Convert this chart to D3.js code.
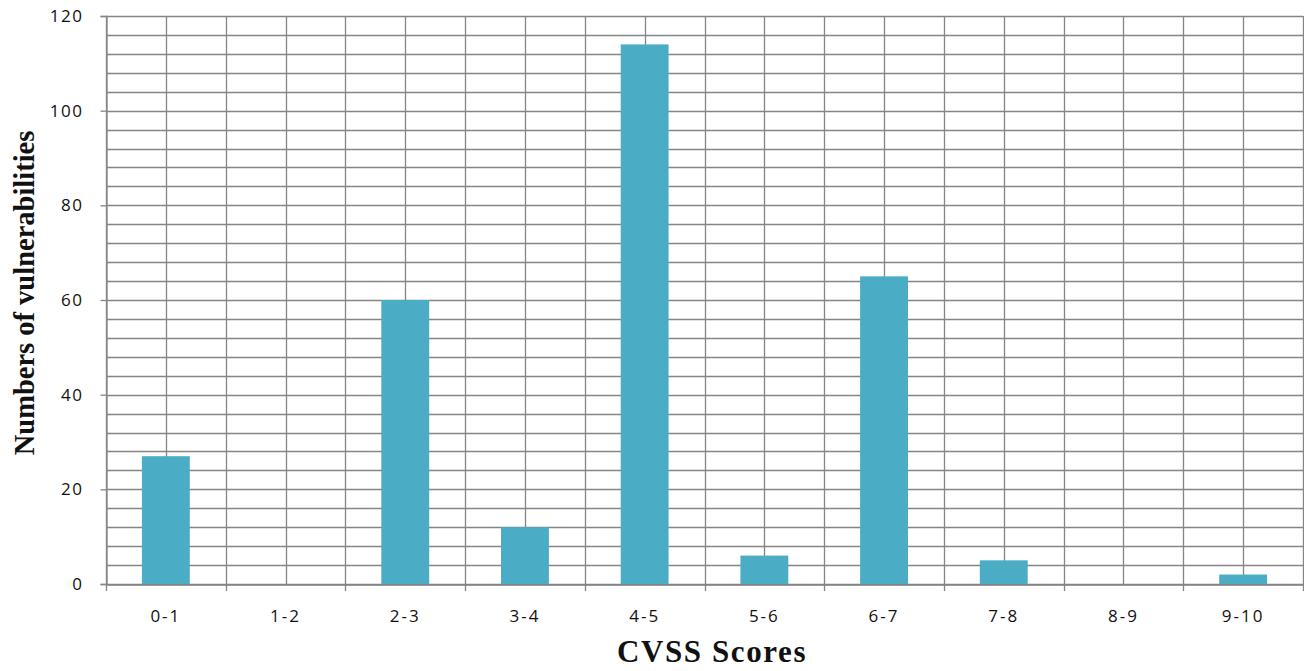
<!DOCTYPE html>
<html><head><meta charset="utf-8">
<script src="https://cdn.jsdelivr.net/npm/d3@7"></script>
<style>body{margin:0;background:#fff}svg{display:block}</style>
</head><body>
<svg id="c" width="1304" height="671"></svg>
<script>
const categories = ["0-1","1-2","2-3","3-4","4-5","5-6","6-7","7-8","8-9","9-10"];
const values = [27, 0, 60, 12, 114, 6, 65, 5, 0, 2];
const yTicks = [0, 20, 40, 60, 80, 100, 120];
const yMinorTicks = d3.range(0, 121, 4);
const xTitle = "CVSS Scores";
const yTitle = "Numbers of vulnerabilities";

const svg = d3.select("#c");
const L = 106, R = 1303, T = 16, B = 584;
const x = d3.scaleBand().domain(categories).range([L, R]).paddingInner(0).paddingOuter(0);
const y = d3.scaleLinear().domain([0, 120]).range([B, T]);
const gridColor = "#858585";

// horizontal minor/major gridlines
svg.append("g").selectAll("line").data(yMinorTicks).join("line")
  .attr("x1", L).attr("x2", R)
  .attr("y1", d => Math.round(y(d)) + 0.5).attr("y2", d => Math.round(y(d)) + 0.5)
  .attr("stroke", gridColor).attr("stroke-width", 1.3);

// vertical gridlines: boundaries and centers
const bounds = categories.map(c => x(c)).concat([R]);
const centers = categories.map(c => x(c) + x.bandwidth() / 2);
svg.append("g").selectAll("line").data(bounds.concat(centers)).join("line")
  .attr("x1", d => Math.round(d) + 0.5).attr("x2", d => Math.round(d) + 0.5)
  .attr("y1", T).attr("y2", B)
  .attr("stroke", gridColor).attr("stroke-width", 1.3);

// bars
svg.append("g").selectAll("rect").data(values).join("rect")
  .attr("x", (d, i) => x(categories[i]) + x.bandwidth() * 0.3)
  .attr("width", x.bandwidth() * 0.4)
  .attr("y", d => y(d))
  .attr("height", d => B - y(d))
  .attr("fill", "#4bacc6");

// y axis
const yAxis = svg.append("g").attr("transform", `translate(${L + 0.5},0)`)
  .call(d3.axisLeft(y).tickValues(yTicks).tickSize(6).tickPadding(17).tickFormat(d3.format("d")));
yAxis.select(".domain").attr("stroke", gridColor).attr("stroke-width", 1.3);
yAxis.selectAll(".tick line").attr("stroke", gridColor).attr("stroke-width", 1.3);
yAxis.selectAll("text").attr("font-family", "Open Sans").attr("font-size", 17)
  .attr("letter-spacing", 1.5).attr("fill", "#111");

// x axis
const xAxis = svg.append("g").attr("transform", `translate(0,${B + 0.5})`)
  .call(d3.axisBottom(x).tickSize(0).tickPadding(25));
xAxis.select(".domain").attr("stroke", gridColor).attr("stroke-width", 1.3);
xAxis.selectAll("text").attr("font-family", "Open Sans").attr("font-size", 17)
  .attr("letter-spacing", 2).attr("fill", "#111");
svg.append("g").selectAll("line").data(bounds).join("line")
  .attr("x1", d => Math.round(d) + 0.5).attr("x2", d => Math.round(d) + 0.5)
  .attr("y1", B).attr("y2", B + 7)
  .attr("stroke", gridColor).attr("stroke-width", 1.3);

// titles
svg.append("text").attr("x", 712).attr("y", 662).attr("text-anchor", "middle")
  .attr("font-family", "Liberation Serif").attr("font-weight", "bold").attr("font-size", 31)
  .attr("letter-spacing", 1.6).attr("fill", "#111").text(xTitle);
svg.append("text").attr("transform", "translate(34,293) rotate(-90)").attr("text-anchor", "middle")
  .attr("font-family", "Liberation Serif").attr("font-weight", "bold").attr("font-size", 28.5)
  .attr("fill", "#111").text(yTitle);
</script>
</body></html>
